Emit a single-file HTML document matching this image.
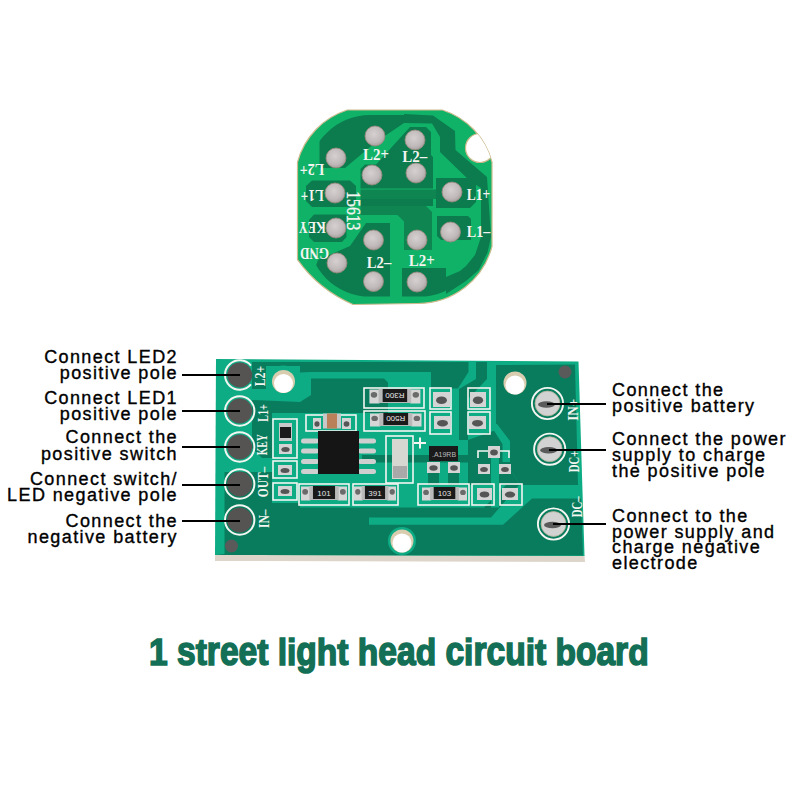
<!DOCTYPE html>
<html><head><meta charset="utf-8">
<style>
html,body{margin:0;padding:0;background:#fff;}
body{width:800px;height:800px;position:relative;overflow:hidden;font-family:"Liberation Sans",sans-serif;}
svg{position:absolute;left:0;top:0;}
.lb{position:absolute;font-size:18px;line-height:16px;letter-spacing:1.4px;color:#000;white-space:pre;-webkit-text-stroke:0.35px #000;}
.l{text-align:right;}
.x{display:inline-block;transform-origin:50% 33px;transform:scaleY(1.09);}
.title{position:absolute;left:149px;top:632px;font-weight:bold;font-size:39px;line-height:40px;color:#136f55;-webkit-text-stroke:1.6px #136f55;white-space:pre;transform-origin:0 33px;transform:scale(0.86,0.96);}
</style></head>
<body>
<svg width="800" height="800" viewBox="0 0 800 800">
<defs>
  <radialGradient id="padg" cx="0.45" cy="0.4" r="0.6"><stop offset="0" stop-color="#d6d0d0"/><stop offset="0.7" stop-color="#c0b9b9"/><stop offset="1" stop-color="#a9a0a0"/></radialGradient>
  <clipPath id="rc"><path d="M347.3,110 L442.4,110 A75,75 0 0 1 492,162.2 L492,246.4 A76.5,76.5 0 0 1 418,303.5 L353,304.5 A133,133 0 0 1 297.5,259.7 L297.5,162.2 A75,75 0 0 1 347.3,110 Z"/></clipPath><clipPath id="rrect"><rect x="297.5" y="110" width="194.5" height="196"/></clipPath><clipPath id="r95"><rect x="308" y="115" width="173.5" height="181.6" rx="62"/></clipPath><clipPath id="r103"><circle cx="394.5" cy="206.5" r="101"/></clipPath>
</defs>
<!-- ROUND BOARD -->
<path d="M347.3,110 L442.4,110 A75,75 0 0 1 492,162.2 L492,246.4 A76.5,76.5 0 0 1 418,303.5 L353,304.5 A133,133 0 0 1 297.5,259.7 L297.5,162.2 A75,75 0 0 1 347.3,110 Z" fill="#10b268" stroke="#cdbb8e" stroke-width="1.2"/>
<g id="round-dark" fill="#0c7b4e" clip-path="url(#rc)">
  <polygon points="404,114 433,115.5 455,131 455.5,150 487,177 491,237 487.5,252.5 478.75,270 466,281 446,294 446,277 460,271 466,266 475,255 481,237 481,188 470,181 440,152 440,137 432,123.5 404,123"/>
  <polygon clip-path="url(#r95)" points="319.5,168 319.5,140 360,100 410,100 410,123 404,123 376,142 345,168"/>
  <polygon points="410,127 426,127 431,132 431,155 433,157 433,188.5 360.5,188.5 360.5,169 365,164.5 376,164.5"/>
  
  <polygon points="360.5,199 433,199 433,206 360.5,206"/>
  <polygon fill="#0f8552" points="360.5,189.5 436,189.5 436,199 360.5,199"/>
  <polygon points="436,178 470,178 476,184 476,202 470,208 436,208"/>
  <polygon points="306,186 312,180.5 350,180.5 356,186 356,201 350,207 312,207 306,201"/>
  <polygon points="309,220 314,214.5 346.5,214.5 346.5,237 342,242 314,242 309,237"/>
  <polygon fill="#0f8552" points="360.5,206 426,206 432,212 432,250 404,250 404,221.5 397.5,215 360.5,215"/>
  <polygon points="437,216 468,216 471,219 471,240 441,240 437,236"/>
  <polygon clip-path="url(#r95)" points="318,260 350,246 366,223 390,223 390,310 300,310"/>
  <polygon clip-path="url(#r95)" points="402,268 446,268 446,310 402,310"/>
</g>
<circle cx="480" cy="148" r="14.5" fill="#fff" stroke="#c9b98a" stroke-width="1.2" clip-path="url(#rc)"/>
<g id="round-labels" font-family="Liberation Serif" font-weight="bold" font-size="13.5" fill="#f4f4f0">
<text x="376" y="154.5" font-size="16.5" text-anchor="middle" dominant-baseline="central" textLength="26" lengthAdjust="spacingAndGlyphs">L2+</text>
<text x="414.8" y="156.2" font-size="16.5" text-anchor="middle" dominant-baseline="central" textLength="25" lengthAdjust="spacingAndGlyphs">L2–</text>
<text x="312" y="169.5" font-size="16.5" text-anchor="middle" dominant-baseline="central" transform="rotate(180 312 169.5)" textLength="24.5" lengthAdjust="spacingAndGlyphs">L2+</text>
<text x="312.3" y="195.8" font-size="16.5" text-anchor="middle" dominant-baseline="central" transform="rotate(180 312.3 195.8)" textLength="23" lengthAdjust="spacingAndGlyphs">L1+</text>
<text x="353.3" y="210.8" font-size="18" font-weight="normal" stroke="#f4f4f0" stroke-width="0.4" text-anchor="middle" dominant-baseline="central" transform="rotate(90 353.3 210.8)" textLength="39" lengthAdjust="spacingAndGlyphs">15613</text>
<text x="312.2" y="227" font-size="16.5" text-anchor="middle" dominant-baseline="central" transform="rotate(180 312.2 227)" textLength="27" lengthAdjust="spacingAndGlyphs">KEY</text>
<text x="314.5" y="253.8" font-size="16.5" text-anchor="middle" dominant-baseline="central" transform="rotate(180 314.5 253.8)" textLength="29" lengthAdjust="spacingAndGlyphs">GND</text>
<text x="379" y="262" font-size="16.5" text-anchor="middle" dominant-baseline="central" textLength="24.5" lengthAdjust="spacingAndGlyphs">L2–</text>
<text x="421.8" y="260.8" font-size="16.5" text-anchor="middle" dominant-baseline="central" textLength="26" lengthAdjust="spacingAndGlyphs">L2+</text>
<text x="478.5" y="194.5" font-size="16.5" text-anchor="middle" dominant-baseline="central" textLength="23.5" lengthAdjust="spacingAndGlyphs">L1+</text>
<text x="478.5" y="231.2" font-size="16.5" text-anchor="middle" dominant-baseline="central" textLength="23.5" lengthAdjust="spacingAndGlyphs">L1–</text>
</g>
<g id="round-pads" fill="url(#padg)" stroke="#9a8a7c" stroke-width="0.8">
  <circle cx="375" cy="136" r="10"/><circle cx="415" cy="140" r="10"/>
  <circle cx="336" cy="158" r="10"/><circle cx="372" cy="175" r="10"/>
  <circle cx="416" cy="173" r="10"/><circle cx="335" cy="193" r="10"/>
  <circle cx="452" cy="192" r="10"/><circle cx="336" cy="228" r="10"/>
  <circle cx="373.5" cy="240" r="10"/><circle cx="417" cy="240" r="10"/>
  <circle cx="450.5" cy="232" r="10"/><circle cx="337" cy="263" r="10"/>
  <circle cx="373.5" cy="281.5" r="10"/><circle cx="417" cy="282" r="10"/>
</g>

<!-- RECT BOARD -->
<polygon points="215,554 584.5,555 585,562 215,561" fill="#ddd5ca"/>
<polygon points="216,359 578.5,361.5 584.5,556 215,555" fill="#0eac85"/>
<g id="rect-dark" fill="#097c5d">
  <polygon points="252,362 468.5,362 468.5,372 458,388.5 431,388.5 431,372 311,372 300,372.5 300,366 266,366 266,389 252,389"/>
  <polygon points="311,378.5 384,378.5 388,382.5 388,413 300,413 300,402 311,395"/>
  <polygon points="252,400 300,402 300,413 272,413 272,458 262,458 252,448"/>
  <polygon points="224.5,472 272,472 272,503 300,503 300,517 369,517 369,525 224.5,525"/>
  <polygon points="476,362 487,362 487,379 468,399 468,440 459,440 459,389 476,379"/>
  <polygon points="496,365 575,364.5 578,485 520,485 511,470 511,452.5 496,430"/>
  <polygon points="532,498.5 581,498.5 583,555.5 215.5,555 224.5,554 224.5,524.75 503,524.75"/>
  <polygon points="362,455 478,455 478,462.5 362,462.5"/>
  <polygon points="428,462 439,462 439,485 428,485"/>
  <polygon points="448,462 459,462 459,485 448,485"/>
  <polygon points="300,507.5 484,507.5 506,485 519,485 491,517.6 300,517.6"/>
  <polygon points="468,440 496,430 511,452.5 511,470 520,485 468,485"/>
</g>
<g fill="#0eac85">
  <polygon points="489.75,424 497,424 510,441 510,462 502.5,462 502.5,444"/>
  <polygon points="491,455 499,455 499,507.5 491,507.5"/>
</g>
<circle cx="283.5" cy="381.5" r="16" fill="#0eac85"/>
<circle cx="283.5" cy="381.5" r="11.5" fill="#d9cdb0"/>
<circle cx="283.5" cy="383.5" r="9.5" fill="#fff"/>
<circle cx="515" cy="383" r="11.5" fill="#d9cdb0"/>
<circle cx="515" cy="385" r="9.5" fill="#fff"/>
<circle cx="402" cy="541" r="14" fill="#0eac85"/>
<circle cx="402" cy="541" r="11.5" fill="#d9cdb0"/>
<circle cx="402" cy="543" r="9.5" fill="#fff"/>
<circle cx="231.5" cy="546" r="6.5" fill="#5a5a5a"/>
<circle cx="565" cy="372" r="6.5" fill="#5a5a5a"/>
<g fill="none" stroke="#f4f6f2" stroke-width="1.6">
  <rect x="273" y="419" width="24" height="39"/>
  <rect x="273" y="461" width="24" height="17"/>
  <rect x="273" y="483" width="24" height="17"/>
  <rect x="306" y="415" width="50" height="16"/>
  <rect x="299" y="484" width="50" height="21"/>
  <rect x="353" y="484" width="45" height="21"/>
  <rect x="364" y="388" width="60" height="20"/>
  <rect x="364" y="411" width="61" height="20"/>
  <rect x="430" y="388" width="21" height="21"/>
  <rect x="430" y="412" width="21" height="22"/>
  <rect x="468" y="388" width="22" height="21"/>
  <rect x="468" y="412" width="22" height="22"/>
  <rect x="386" y="436" width="27" height="47"/>
  <rect x="418" y="484" width="51" height="21"/>
  <rect x="472" y="484" width="22" height="21"/>
  <rect x="500" y="484" width="22" height="21"/>
  <polyline points="478,458 478,451 509,451 509,458"/>
</g>
<g>
  <rect x="279" y="444" width="13" height="10" fill="#d4d4d4"/>
  <ellipse cx="285.5" cy="449.5" rx="4.16" ry="2.5" fill="#555"/>
  <rect x="278" y="465" width="14" height="10" fill="#d4d4d4"/>
  <ellipse cx="285.0" cy="470.5" rx="4.48" ry="2.5" fill="#555"/>
  <rect x="278" y="486" width="14" height="10" fill="#d4d4d4"/>
  <ellipse cx="285.0" cy="491.5" rx="4.48" ry="2.5" fill="#555"/>
  <rect x="313" y="418" width="8" height="11" fill="#d4d4d4"/>
  <ellipse cx="317.0" cy="424.05" rx="2.56" ry="2.75" fill="#555"/>
  <rect x="342" y="418" width="9" height="11" fill="#d4d4d4"/>
  <ellipse cx="346.5" cy="424.05" rx="2.88" ry="2.75" fill="#555"/>
  <rect x="433" y="392" width="17" height="15" fill="#d4d4d4"/>
  <ellipse cx="441.5" cy="400.25" rx="5.44" ry="3.75" fill="#555"/>
  <rect x="434" y="416" width="17" height="13" fill="#d4d4d4"/>
  <ellipse cx="442.5" cy="423.15" rx="5.44" ry="3.25" fill="#555"/>
  <rect x="470" y="392" width="16" height="15" fill="#d4d4d4"/>
  <ellipse cx="478.0" cy="400.25" rx="5.12" ry="3.75" fill="#555"/>
  <rect x="469" y="416" width="17" height="13" fill="#d4d4d4"/>
  <ellipse cx="477.5" cy="423.15" rx="5.44" ry="3.25" fill="#555"/>
  <rect x="477" y="488" width="15" height="12" fill="#d4d4d4"/>
  <ellipse cx="484.5" cy="494.6" rx="4.8" ry="3.0" fill="#555"/>
  <rect x="502" y="488" width="16" height="12" fill="#d4d4d4"/>
  <ellipse cx="510.0" cy="494.6" rx="5.12" ry="3.0" fill="#555"/>
  <rect x="488" y="446" width="12" height="12" fill="#d4d4d4"/>
  <ellipse cx="494.0" cy="452.6" rx="3.84" ry="3.0" fill="#555"/>
  <rect x="478" y="464" width="12" height="10" fill="#d4d4d4"/>
  <ellipse cx="484.0" cy="469.5" rx="3.84" ry="2.5" fill="#555"/>
  <rect x="499" y="464" width="12" height="10" fill="#d4d4d4"/>
  <ellipse cx="505.0" cy="469.5" rx="3.84" ry="2.5" fill="#555"/>
  <rect x="427" y="462" width="13" height="11" fill="#d4d4d4"/>
  <ellipse cx="433.5" cy="468.05" rx="4.16" ry="2.75" fill="#555"/>
  <rect x="448" y="462" width="12" height="11" fill="#d4d4d4"/>
  <ellipse cx="454.0" cy="468.05" rx="3.84" ry="2.75" fill="#555"/>
</g>
<rect x="301" y="486.5" width="9.28" height="14" fill="#d6d6d6"/>
<rect x="337.72" y="486.5" width="9.28" height="14" fill="#d6d6d6"/>
<ellipse cx="305.14" cy="491.85" rx="2.8979999999999997" ry="2.86" fill="#6a6a6a"/>
<ellipse cx="342.86" cy="491.85" rx="2.8979999999999997" ry="2.86" fill="#6a6a6a"/>
<rect x="309.28" y="486" width="29.44" height="14" fill="#b9b9b9"/>
<rect x="312.96" y="486" width="22.080000000000002" height="13" fill="#1a1a1a"/>
<text x="324.0" y="495.5" font-family="Liberation Sans" font-size="8" fill="#e6e6e6" text-anchor="middle">101</text>
<rect x="354" y="486.5" width="8.559999999999999" height="14" fill="#d6d6d6"/>
<rect x="387.44" y="486.5" width="8.559999999999999" height="14" fill="#d6d6d6"/>
<ellipse cx="357.78" cy="491.85" rx="2.646" ry="2.86" fill="#6a6a6a"/>
<ellipse cx="392.22" cy="491.85" rx="2.646" ry="2.86" fill="#6a6a6a"/>
<rect x="361.56" y="486" width="26.880000000000003" height="14" fill="#b9b9b9"/>
<rect x="364.92" y="486" width="20.160000000000004" height="13" fill="#1a1a1a"/>
<text x="375.0" y="495.5" font-family="Liberation Sans" font-size="8" fill="#e6e6e6" text-anchor="middle">391</text>
<rect x="369.4" y="389.5" width="10.18" height="14" fill="#d6d6d6"/>
<rect x="410.21999999999997" y="389.5" width="10.18" height="14" fill="#d6d6d6"/>
<ellipse cx="373.98999999999995" cy="394.85" rx="3.2129999999999996" ry="2.86" fill="#6a6a6a"/>
<ellipse cx="415.81" cy="394.85" rx="3.2129999999999996" ry="2.86" fill="#6a6a6a"/>
<rect x="378.58" y="389" width="32.64" height="14" fill="#b9b9b9"/>
<rect x="382.65999999999997" y="389" width="24.48" height="13" fill="#1a1a1a"/>
<text x="394.9" y="398.5" font-family="Liberation Sans" font-size="8" fill="#e6e6e6" text-anchor="middle" transform="rotate(180 394.9 395.5)">R300</text>
<rect x="370" y="413.5" width="10.27" height="13" fill="#d6d6d6"/>
<rect x="411.23" y="413.5" width="10.27" height="13" fill="#d6d6d6"/>
<ellipse cx="374.635" cy="418.4" rx="3.2444999999999995" ry="2.64" fill="#6a6a6a"/>
<ellipse cx="416.865" cy="418.4" rx="3.2444999999999995" ry="2.64" fill="#6a6a6a"/>
<rect x="379.27" y="413" width="32.96" height="13" fill="#b9b9b9"/>
<rect x="383.39" y="413" width="24.72" height="12" fill="#1a1a1a"/>
<text x="395.75" y="422.0" font-family="Liberation Sans" font-size="8" fill="#e6e6e6" text-anchor="middle" transform="rotate(180 395.75 419.0)">R500</text>
<rect x="422" y="487.5" width="9.1" height="13" fill="#d6d6d6"/>
<rect x="457.9" y="487.5" width="9.1" height="13" fill="#d6d6d6"/>
<ellipse cx="426.05" cy="492.4" rx="2.8349999999999995" ry="2.64" fill="#6a6a6a"/>
<ellipse cx="462.95" cy="492.4" rx="2.8349999999999995" ry="2.64" fill="#6a6a6a"/>
<rect x="430.1" y="487" width="28.8" height="13" fill="#b9b9b9"/>
<rect x="433.70000000000005" y="487" width="21.6" height="12" fill="#1a1a1a"/>
<text x="444.5" y="496.0" font-family="Liberation Sans" font-size="8" fill="#e6e6e6" text-anchor="middle">103</text>
<rect x="279" y="423" width="13" height="18" fill="#c9c9c9"/><rect x="280" y="427" width="11" height="11" fill="#1a1a1a"/>
<rect x="323" y="413.5" width="18" height="15" fill="#c8c8c8"/><rect x="327" y="413.5" width="10" height="15" fill="#b9805a"/>
<g fill="#cfcfcf">
  <rect x="301" y="438.5" width="18" height="5" rx="2.5"/>
  <rect x="358" y="438.5" width="18" height="5" rx="2.5"/>
  <rect x="301" y="448.5" width="18" height="5" rx="2.5"/>
  <rect x="358" y="448.5" width="18" height="5" rx="2.5"/>
  <rect x="301" y="459.0" width="18" height="5" rx="2.5"/>
  <rect x="358" y="459.0" width="18" height="5" rx="2.5"/>
  <rect x="301" y="469.0" width="18" height="5" rx="2.5"/>
  <rect x="358" y="469.0" width="18" height="5" rx="2.5"/>
</g>
<rect x="318" y="431" width="41" height="43" fill="#151515"/>
<rect x="392" y="439" width="16" height="40" fill="#d7d7d2"/><rect x="393" y="466" width="14" height="12" fill="#a9a9a9"/>
<path d="M414 443 H426 M420 437.5 V448.5" stroke="#f4f6f2" stroke-width="2"/>
<rect x="429" y="446" width="29" height="15" fill="#1a1a1a"/>
<text x="444" y="456.5" font-family="Liberation Sans" font-size="7" fill="#bbb" text-anchor="middle">.A19RB</text>
<path d="M250.96 365.55 A14.7 14.7 0 1 0 250.96 384.45" fill="none" stroke="#f4f6f2" stroke-width="2"/>
<circle cx="239.7" cy="375" r="12.5" fill="#565353"/>
<circle cx="239.7" cy="411" r="14.7" fill="none" stroke="#f4f6f2" stroke-width="2"/>
<circle cx="239.7" cy="411" r="12.5" fill="#565353"/>
<circle cx="239.7" cy="447" r="14.7" fill="none" stroke="#f4f6f2" stroke-width="2"/>
<circle cx="239.7" cy="447" r="12.5" fill="#565353"/>
<circle cx="239.7" cy="484" r="14.7" fill="none" stroke="#f4f6f2" stroke-width="2"/>
<circle cx="239.7" cy="484" r="12.5" fill="#565353"/>
<circle cx="239.7" cy="520" r="14.7" fill="none" stroke="#f4f6f2" stroke-width="2"/>
<circle cx="239.7" cy="520" r="12.5" fill="#565353"/>
<circle cx="547.5" cy="403.5" r="15.6" fill="none" stroke="#f4f6f2" stroke-width="1.9"/>
<circle cx="547.5" cy="403.5" r="12.4" fill="#d2d2d2" stroke="#b8b49a" stroke-width="0.8"/>
<ellipse cx="546.5" cy="404.5" rx="8.5" ry="3.2" fill="#5a5a5a"/>
<circle cx="549.7" cy="449.2" r="15.6" fill="none" stroke="#f4f6f2" stroke-width="1.9"/>
<circle cx="549.7" cy="449.2" r="12.4" fill="#d2d2d2" stroke="#b8b49a" stroke-width="0.8"/>
<ellipse cx="548.7" cy="450.2" rx="8.5" ry="3.2" fill="#5a5a5a"/>
<circle cx="553.5" cy="524" r="15.6" fill="none" stroke="#f4f6f2" stroke-width="1.9"/>
<circle cx="553.5" cy="524" r="12.4" fill="#d2d2d2" stroke="#b8b49a" stroke-width="0.8"/>
<ellipse cx="552.5" cy="525" rx="8.5" ry="3.2" fill="#5a5a5a"/>
<text x="260.4" y="376" font-family="Liberation Serif" font-weight="bold" font-size="14.5" fill="#f4f6f2" text-anchor="middle" dominant-baseline="central" textLength="20.5" lengthAdjust="spacingAndGlyphs" transform="rotate(-90 260.4 376)">L2+</text>
<text x="263" y="413" font-family="Liberation Serif" font-weight="bold" font-size="14.5" fill="#f4f6f2" text-anchor="middle" dominant-baseline="central" textLength="17.5" lengthAdjust="spacingAndGlyphs" transform="rotate(-90 263 413)">L1+</text>
<text x="262" y="444.75" font-family="Liberation Serif" font-weight="bold" font-size="14.5" fill="#f4f6f2" text-anchor="middle" dominant-baseline="central" textLength="21" lengthAdjust="spacingAndGlyphs" transform="rotate(-90 262 444.75)">KEY</text>
<text x="262.5" y="482" font-family="Liberation Serif" font-weight="bold" font-size="14.5" fill="#f4f6f2" text-anchor="middle" dominant-baseline="central" textLength="30.5" lengthAdjust="spacingAndGlyphs" transform="rotate(-90 262.5 482)">OUT–</text>
<text x="264" y="518.75" font-family="Liberation Serif" font-weight="bold" font-size="14.5" fill="#f4f6f2" text-anchor="middle" dominant-baseline="central" textLength="18.5" lengthAdjust="spacingAndGlyphs" transform="rotate(-90 264 518.75)">IN–</text>
<text x="572.5" y="409.75" font-family="Liberation Serif" font-weight="bold" font-size="14.5" fill="#f4f6f2" text-anchor="middle" dominant-baseline="central" textLength="22" lengthAdjust="spacingAndGlyphs" transform="rotate(-90 572.5 409.75)">IN+</text>
<text x="574" y="461.5" font-family="Liberation Serif" font-weight="bold" font-size="14.5" fill="#f4f6f2" text-anchor="middle" dominant-baseline="central" textLength="21.5" lengthAdjust="spacingAndGlyphs" transform="rotate(-90 574 461.5)">DC+</text>
<text x="576.75" y="506.75" font-family="Liberation Serif" font-weight="bold" font-size="14.5" fill="#f4f6f2" text-anchor="middle" dominant-baseline="central" textLength="21" lengthAdjust="spacingAndGlyphs" transform="rotate(-90 576.75 506.75)">DC–</text>
<!-- leader lines -->
<g stroke="#000" stroke-width="2">
  <line x1="182" y1="375" x2="240" y2="375"/>
  <line x1="182" y1="411" x2="240" y2="411"/>
  <line x1="182" y1="447" x2="240" y2="447"/>
  <line x1="182" y1="485" x2="240" y2="485"/>
  <line x1="182" y1="521" x2="240" y2="521"/>
  <line x1="547" y1="404" x2="606" y2="404"/>
  <line x1="549" y1="450" x2="606" y2="450"/>
  <line x1="553" y1="524" x2="606" y2="524"/>
</g>
</svg>

<div class="lb l" style="right:622px;top:349.46px">Connect LED2</div>
<div class="lb l" style="right:622px;top:364.9px">positive pole</div>
<div class="lb l" style="right:622px;top:390.3px">Connect LED1</div>
<div class="lb l" style="right:622px;top:405.71px">positive pole</div>
<div class="lb l" style="right:622px;top:429.46px">Connect the</div>
<div class="lb l" style="right:622px;top:445.9px">positive switch</div>
<div class="lb l" style="right:622px;top:471.21px">Connect switch/</div>
<div class="lb l" style="right:622px;top:486.96px">LED negative pole</div>
<div class="lb l" style="right:622px;top:513.21px">Connect the</div>
<div class="lb l" style="right:622px;top:529.46px">negative battery</div>

<div class="lb" style="left:612px;top:382.46px">Connect the</div>
<div class="lb" style="left:612px;top:398.21px">positive battery</div>
<div class="lb" style="left:612px;top:431.46px">Connect the power</div>
<div class="lb" style="left:612px;top:446.96px">supply to charge</div>
<div class="lb" style="left:612px;top:463.1px">the positive pole</div>
<div class="lb" style="left:612px;top:508.06px">Connect to the</div>
<div class="lb" style="left:612px;top:523.76px">power supply and</div>
<div class="lb" style="left:612px;top:539.46px">charge negative</div>
<div class="lb" style="left:612px;top:555.26px">electrode</div>

<div class="title">1 <span class="x">s</span>t<span class="x">r</span><span class="x">e</span><span class="x">e</span>t li<span class="x">g</span>ht h<span class="x">e</span><span class="x">a</span>d <span class="x">c</span>i<span class="x">r</span><span class="x">c</span><span class="x">u</span>it b<span class="x">o</span><span class="x">a</span><span class="x">r</span>d</div>
</body></html>
